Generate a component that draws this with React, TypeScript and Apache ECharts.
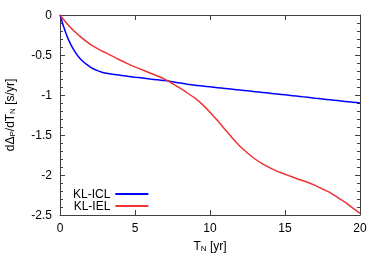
import React, { useEffect, useRef } from "react";
import * as echarts from "echarts";

const tValues = [0, 0.25, 0.5, 0.75, 1, 1.25, 1.5, 1.75, 2, 2.25, 2.5, 2.75, 3, 3.5, 4, 4.5, 5, 5.5, 6, 6.5, 7, 7.5, 8, 8.5, 9, 9.5, 10, 10.5, 11, 11.5, 12, 12.5, 13, 13.5, 14, 14.5, 15, 15.5, 16, 16.5, 17, 17.5, 18, 18.5, 19, 19.5, 20];
const iclValues = [0, -0.15, -0.28, -0.38, -0.46, -0.525, -0.575, -0.615, -0.648, -0.675, -0.695, -0.712, -0.725, -0.74, -0.752, -0.765, -0.777, -0.788, -0.8, -0.81, -0.82, -0.835, -0.85, -0.865, -0.878, -0.888, -0.898, -0.908, -0.918, -0.928, -0.938, -0.948, -0.958, -0.968, -0.978, -0.988, -0.998, -1.008, -1.018, -1.029, -1.04, -1.05, -1.06, -1.07, -1.08, -1.09, -1.1];
const ielValues = [0, -0.06, -0.115, -0.165, -0.21, -0.253, -0.293, -0.33, -0.363, -0.393, -0.42, -0.445, -0.468, -0.515, -0.562, -0.607, -0.648, -0.687, -0.725, -0.763, -0.805, -0.858, -0.915, -0.975, -1.04, -1.12, -1.215, -1.32, -1.43, -1.54, -1.64, -1.725, -1.8, -1.86, -1.91, -1.955, -1.99, -2.025, -2.06, -2.09, -2.13, -2.175, -2.22, -2.28, -2.34, -2.41, -2.48];
const seriesNames = ["KL-ICL", "KL-IEL"];

const FONT = "Liberation Sans, Arial, sans-serif";
const AXIS_COLOR = "#404040";
const BLUE = "#0000ff";
const RED = "#ee3333";

export default function App() {
  const ref = useRef<HTMLDivElement>(null);
  useEffect(() => {
    if (!ref.current) return;
    const chart = echarts.init(ref.current, undefined, { renderer: "svg" });
    const pairs = (ys: number[]) => tValues.map((t, i) => [t, ys[i]]);
    const axisBase = {
      axisLine: { show: true, onZero: false, lineStyle: { color: AXIS_COLOR, width: 1 } },
      axisTick: { show: true, inside: true, length: 5, lineStyle: { color: AXIS_COLOR } },
      splitLine: { show: false },
    };
    const subRich = { s: { fontSize: 8, verticalAlign: "bottom", padding: [5, 0, 0, 0], fontFamily: FONT, color: "#000" } };
    chart.setOption({
      animation: false,
      textStyle: { fontFamily: FONT },
      grid: { left: 60, top: 15, width: 300, height: 200, containLabel: false, outerBoundsMode: "none" },
      legend: {
        orient: "vertical",
        left: 68,
        top: 183,
        align: "right",
        icon: "rect",
        itemWidth: 33,
        itemHeight: 2,
        itemGap: 0,
        padding: 5,
        textStyle: { fontSize: 12, color: "#000", fontFamily: FONT, lineHeight: 12 },
        data: [
          { name: seriesNames[0], itemStyle: { color: BLUE } },
          { name: seriesNames[1], itemStyle: { color: RED } },
        ],
      },
      xAxis: [
        {
          ...axisBase,
          type: "value",
          min: 0,
          max: 20,
          interval: 5,
          position: "bottom",
          name: "T{s|N} [yr]",
          nameLocation: "middle",
          nameGap: 24,
          nameTextStyle: { fontSize: 12, color: "#000", fontFamily: FONT, rich: subRich },
          axisLabel: { fontSize: 12, color: "#000", margin: 7, fontFamily: FONT },
        },
        {
          ...axisBase,
          type: "value",
          min: 0,
          max: 20,
          interval: 5,
          position: "top",
          axisLabel: { show: false },
        },
      ],
      yAxis: [
        {
          ...axisBase,
          type: "value",
          min: -2.5,
          max: 0,
          interval: 0.5,
          position: "left",
          minorTick: { show: true, splitNumber: 5, length: 3, lineStyle: { color: AXIS_COLOR } },
          name: "dΔ{s|P}/dT{s|N} [s/yr]",
          nameLocation: "middle",
          nameGap: 44,
          nameRotate: 90,
          nameTextStyle: { fontSize: 12, color: "#000", fontFamily: FONT, rich: subRich },
          axisLabel: { fontSize: 12, color: "#000", margin: 8, fontFamily: FONT },
        },
        {
          ...axisBase,
          type: "value",
          min: -2.5,
          max: 0,
          interval: 0.5,
          position: "right",
          minorTick: { show: true, splitNumber: 5, length: 3, lineStyle: { color: AXIS_COLOR } },
          axisLabel: { show: false },
        },
      ],
      series: [
        {
          name: seriesNames[0],
          type: "line",
          data: pairs(iclValues),
          smooth: 0.2,
          symbol: "none",
          color: BLUE,
          lineStyle: { width: 1.5, color: BLUE },
        },
        {
          name: seriesNames[1],
          type: "line",
          data: pairs(ielValues),
          smooth: 0.2,
          symbol: "none",
          color: RED,
          lineStyle: { width: 1.5, color: RED },
        },
      ],
    });
    return () => chart.dispose();
  }, []);
  return <div ref={ref} style={{ position: "fixed", left: 0, top: 0, width: 382, height: 267 }} />;
}
